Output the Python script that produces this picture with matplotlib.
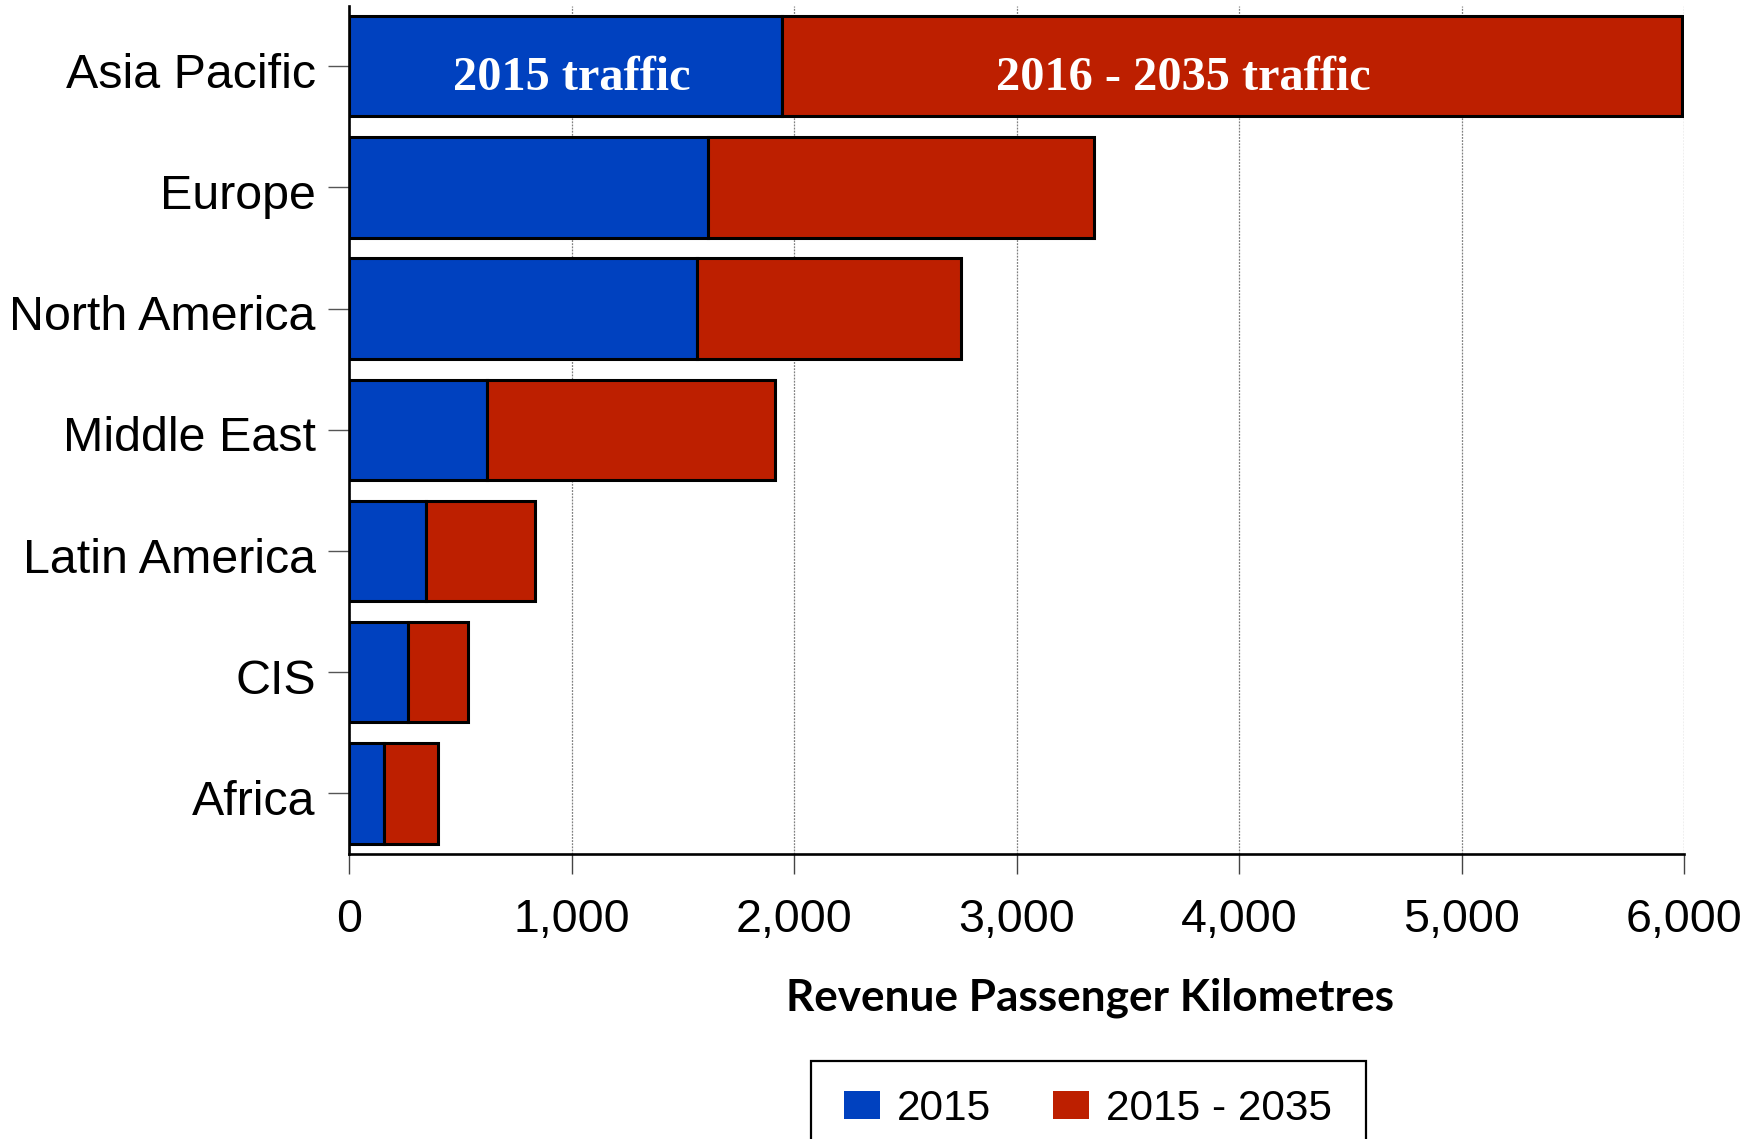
import matplotlib
matplotlib.use("Agg")
import matplotlib.pyplot as plt
from matplotlib.patches import Patch, Rectangle
from matplotlib.ticker import FuncFormatter
from matplotlib.transforms import ScaledTranslation

# Revenue passenger kilometres by region
regions = ["Asia Pacific", "Europe", "North America", "Middle East",
           "Latin America", "CIS", "Africa"]
traffic_2015 = [1944, 1615, 1564, 620, 345, 265, 157]
traffic_growth = [4046, 1733, 1187, 1294, 490, 269, 242]   # added 2016-2035
x_ticks = [0, 1000, 2000, 3000, 4000, 5000, 6000]
legend_labels = ["2015", "2015 - 2035"]

BLUE = "#0041BF"
RED = "#BD1F00"

plt.rcParams["font.family"] = ["Liberation Sans", "DejaVu Sans"]

W, H = 1762, 1139
fig = plt.figure(figsize=(W / 100, H / 100), dpi=100)
ax = fig.add_axes([349 / W, 1 - 854 / H, (1684 - 349) / W, (854 - 5.6) / H])

ypos = list(range(len(regions)))
ax.barh(ypos, traffic_2015, height=0.83, color=BLUE, edgecolor="black",
        linewidth=2.2, zorder=3)
ax.barh(ypos, traffic_growth, left=traffic_2015, height=0.83, color=RED,
        edgecolor="black", linewidth=2.2, zorder=3)

ax.set_ylim(6.5, -0.5)
ax.set_xlim(0, 6000)
ax.set_yticks(ypos)
ax.set_yticklabels(regions, fontsize=34.8)
ax.set_xticks(x_ticks)
ax.xaxis.set_major_formatter(FuncFormatter(lambda v, p: f"{int(v):,}"))
ax.tick_params(axis="x", labelsize=33.5, length=14.5, width=1.0,
               color="#444444", pad=17)
ax.tick_params(axis="y", length=15, width=1.0, color="#555555", pad=9)

# region names sit a touch below their tick marks
shift = ScaledTranslation(0, -4 / 100, fig.dpi_scale_trans)
for lab in ax.get_yticklabels():
    lab.set_transform(lab.get_transform() + shift)

ax.grid(axis="x", color="#808080", linestyle=(0, (1.5, 1.0)), linewidth=0.9,
        zorder=0)
ax.set_axisbelow(True)
for side in ("top", "right"):
    ax.spines[side].set_visible(False)
for side in ("left", "bottom"):
    ax.spines[side].set_linewidth(1.9)
    ax.spines[side].set_color("black")
    ax.spines[side].set_zorder(4)

# In-bar annotations on the top row
ax.text(1000, 0.1, "2015 traffic", color="white", fontsize=34.8,
        fontweight="bold", family=["Liberation Serif", "DejaVu Serif"],
        ha="center", va="center", zorder=5)
ax.text(3750, 0.1, "2016 - 2035 traffic", color="white", fontsize=34.8,
        fontweight="bold", family=["Liberation Serif", "DejaVu Serif"],
        ha="center", va="center", zorder=5)

# Axis title
xl = ax.set_xlabel("Revenue Passenger Kilometres", fontsize=31.8,
                   fontweight="bold", family=["Lato", "DejaVu Sans"])
xl.set_va("center")
ax.xaxis.set_label_coords((1090 - 349) / (1684 - 349), (854 - 998) / (854 - 5.6))

# Legend with an open-bottom frame running off the figure edge
handles = [Patch(facecolor=BLUE, edgecolor="none"),
           Patch(facecolor=RED, edgecolor="none")]
fig.legend(handles, legend_labels, loc="center left",
           bbox_to_anchor=(844 / W, 1 - 1109 / H), ncol=2, frameon=False,
           fontsize=30.5, handlelength=0.85, handleheight=0.62,
           handletextpad=0.4, columnspacing=1.45, borderpad=0,
           borderaxespad=0)
fig.patches.append(Rectangle((811 / W, -0.02), (1366 - 811) / W,
                             (1 - 1061 / H) + 0.02, transform=fig.transFigure,
                             facecolor="none", edgecolor="black",
                             linewidth=1.6))

fig.savefig("out.png", dpi=100)
